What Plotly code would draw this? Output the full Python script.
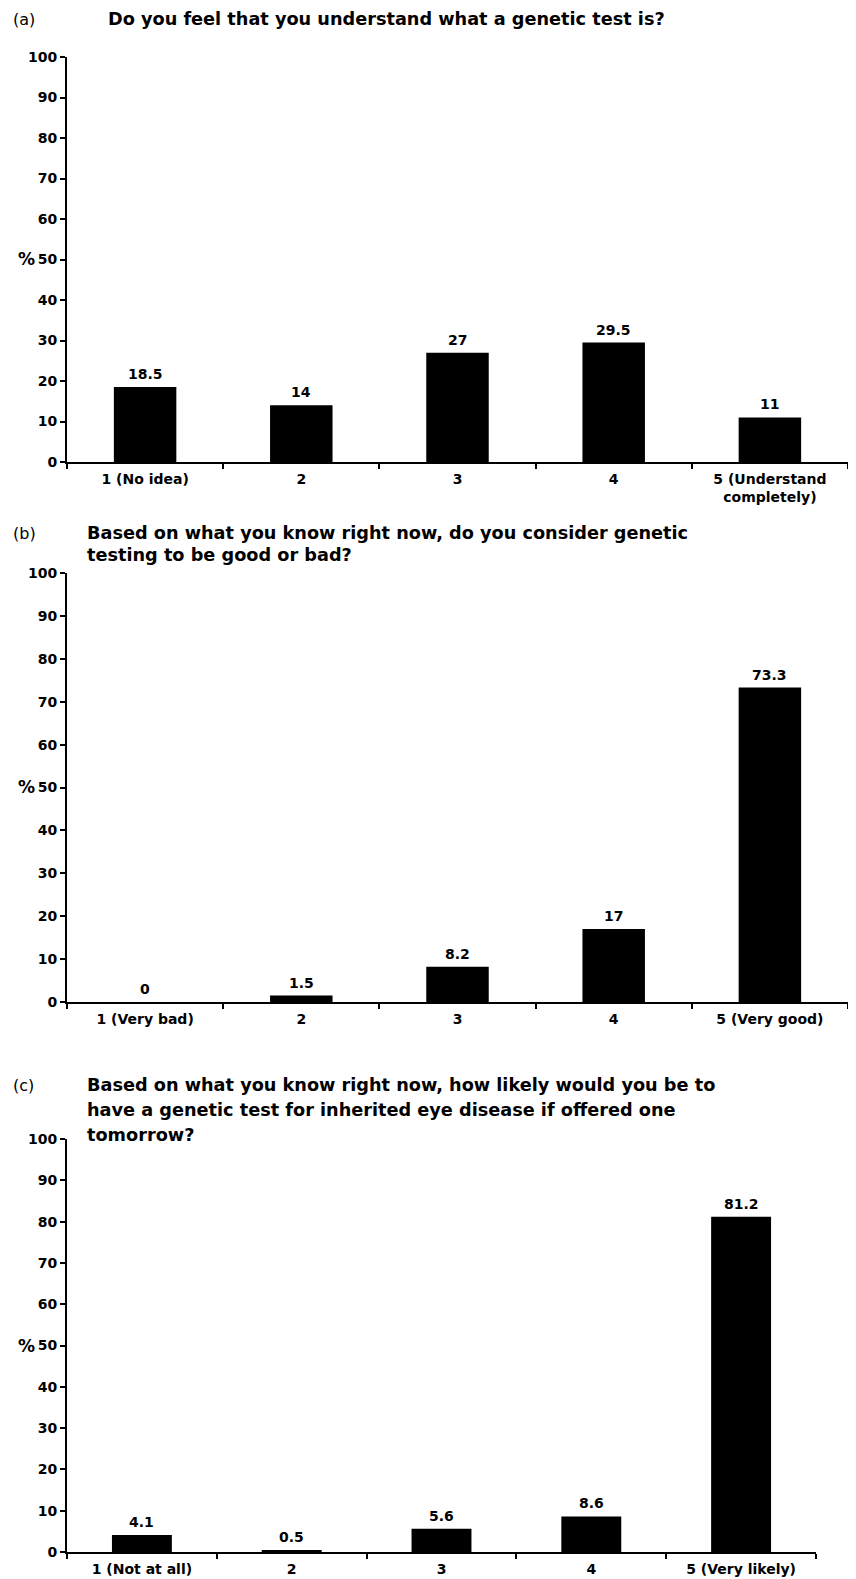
import plotly.graph_objects as go

# target page size and the page offset of the plot div (body margin)
PAGE_W, PAGE_H = 856, 1579
OX, OY = 8, 8
W, H = PAGE_W - 2 * OX, PAGE_H - OY

cats_a = ["1 (No idea)", "2", "3", "4", "5 (Understand<br>completely)"]
vals_a = [18.5, 14, 27, 29.5, 11]
cats_b = ["1 (Very bad)", "2", "3", "4", "5 (Very good)"]
vals_b = [0, 1.5, 8.2, 17, 73.3]
cats_c = ["1 (Not at all)", "2", "3", "4", "5 (Very likely)"]
vals_c = [4.1, 0.5, 5.6, 8.6, 81.2]

titles_a = ["Do you feel that you understand what a genetic test is?"]
titles_b = ["Based on what you know right now, do you consider genetic",
            "testing to be good or bad?"]
titles_c = ["Based on what you know right now, how likely would you be to",
            "have a genetic test for inherited eye disease if offered one",
            "tomorrow?"]
panel_labels = ["(a)", "(b)", "(c)"]
y_ticks = list(range(0, 101, 10))

FONT = "DejaVu Sans"

def py(pix):
    return min(1.0, max(0.0, 1 - (pix - OY) / H))

def px(pix):
    return min(1.0, max(0.0, (pix - OX) / W))

panels = [
    dict(cats=cats_a, vals=vals_a, titles=titles_a, xdom=(67, 850), ydom=(57, 462),
         label_y=19, title_x=106, title_y=[19]),
    dict(cats=cats_b, vals=vals_b, titles=titles_b, xdom=(67, 850), ydom=(573, 1002),
         label_y=533, title_x=85, title_y=[533, 555]),
    dict(cats=cats_c, vals=vals_c, titles=titles_c, xdom=(67, 816), ydom=(1139, 1552),
         label_y=1085, title_x=85, title_y=[1085, 1110, 1135]),
]

fig = go.Figure()
annotations = []
for i, p in enumerate(panels):
    n = "" if i == 0 else str(i + 1)
    xa, ya = "x" + n, "y" + n
    fig.add_trace(go.Bar(x=p["cats"], y=p["vals"], xaxis=xa, yaxis=ya,
                         width=0.4, marker=dict(color="black", line=dict(width=0)),
                         showlegend=False, hoverinfo="skip"))
    axis_common = dict(showline=True, linecolor="black", linewidth=2, ticks="outside",
                       tickcolor="black", tickwidth=1.5, showgrid=False, zeroline=False,
                       automargin=False,
                       tickfont=dict(family=FONT, size=14, color="black", weight="bold"))
    fig.update_layout(**{
        "xaxis" + n: dict(domain=[px(p["xdom"][0]), px(p["xdom"][1])], anchor=ya,
                          type="category", tickson="boundaries", ticklen=5,
                          ticklabelstandoff=3, fixedrange=True, **axis_common),
        "yaxis" + n: dict(domain=[py(p["ydom"][1]), py(p["ydom"][0])], anchor=xa,
                          range=[0, 100], tickvals=y_ticks, ticklen=5,
                          fixedrange=True, **axis_common),
    })
    for k, v in enumerate(p["vals"]):
        annotations.append(dict(x=k, y=v, xref=xa, yref=ya, text=f"{v:g}",
                                showarrow=False, yanchor="bottom", yshift=3,
                                font=dict(family=FONT, size=14, color="black", weight="bold")))
    annotations.append(dict(x=px(26), y=50, xref="paper", yref=ya, text="%",
                            showarrow=False, xanchor="center", yanchor="middle",
                            font=dict(family=FONT, size=17, color="black", weight="bold")))
    annotations.append(dict(x=px(11), y=py(p["label_y"]), xref="paper", yref="paper",
                            text=panel_labels[i], showarrow=False, xanchor="left",
                            yanchor="middle",
                            font=dict(family=FONT, size=16, color="black")))
    for t, ty in zip(p["titles"], p["title_y"]):
        annotations.append(dict(x=px(p["title_x"]), y=py(ty), xref="paper", yref="paper",
                                text=t, showarrow=False, xanchor="left", yanchor="middle",
                                font=dict(family=FONT, size=17.7, color="black", weight="bold")))

fig.update_layout(width=W, height=H, margin=dict(l=0, r=0, t=0, b=0, autoexpand=False),
                  plot_bgcolor="white", paper_bgcolor="white",
                  annotations=annotations, bargap=0.6)
fig.write_html("out.html")
